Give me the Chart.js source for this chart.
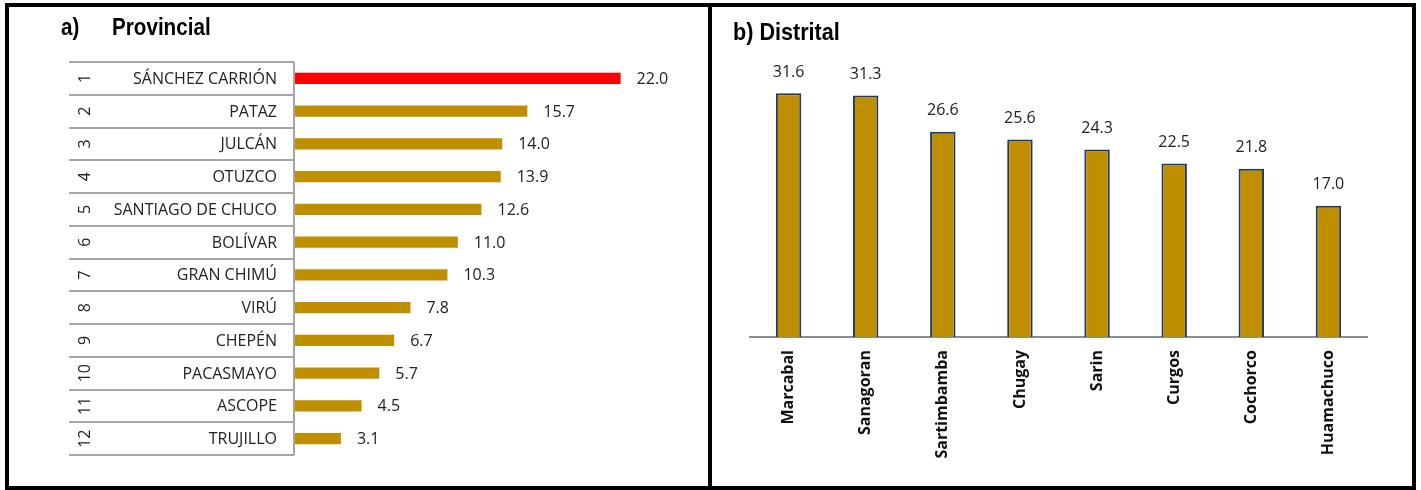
<!DOCTYPE html>
<html lang="es">
<head>
<meta charset="UTF-8">
<title>Provincial y Distrital</title>
<script src="https://cdn.jsdelivr.net/npm/chart.js"></script>
<style>
  body { margin: 0; background: #fff; width: 1421px; height: 490px; overflow: hidden; }
  .marco { position: absolute; left: 5px; top: 3px; width: 1403px; height: 479px; border: 4px solid #000; z-index: 2; }
  .divisor { position: absolute; left: 708px; top: 3px; width: 4px; height: 487px; background: #000; z-index: 2; }
  .titulo { position: absolute; font-family: 'Liberation Sans', Arial, sans-serif;
            font-weight: bold; font-size: 24px; color: #000; z-index: 3; line-height: 1;
            transform: scaleX(0.86); transform-origin: left top; white-space: nowrap; }
  #izq { position: absolute; left: 0; top: 0; }
  #der { position: absolute; left: 712px; top: 0; }
</style>
</head>
<body>
<div class="marco"></div>
<div class="divisor"></div>
<div class="titulo" style="left:61px; top:15px;">a)</div>
<div class="titulo" style="left:112px; top:15px;">Provincial</div>
<div class="titulo" style="left:733px; top:20px; transform: scaleX(0.9);">b) Distrital</div>
<canvas id="izq" width="708" height="490"></canvas>
<canvas id="der" width="709" height="490"></canvas>

<script>
// a) Provincial
const rangos = ['1', '2', '3', '4', '5', '6', '7', '8', '9', '10', '11', '12'];
const provincias = ['SÁNCHEZ CARRIÓN', 'PATAZ', 'JULCÁN', 'OTUZCO', 'SANTIAGO DE CHUCO', 'BOLÍVAR',
                    'GRAN CHIMÚ', 'VIRÚ', 'CHEPÉN', 'PACASMAYO', 'ASCOPE', 'TRUJILLO'];
const valoresProv = [22.0, 15.7, 14.0, 13.9, 12.6, 11.0, 10.3, 7.8, 6.7, 5.7, 4.5, 3.1];

// b) Distrital
const distritos = ['Marcabal', 'Sanagoran', 'Sartimbamba', 'Chugay', 'Sarin', 'Curgos', 'Cochorco', 'Huamachuco'];
const valoresDist = [31.6, 31.3, 26.6, 25.6, 24.3, 22.5, 21.8, 17.0];

const ORO = '#BF8F00';
const fuente = "'Open Sans', Lato, sans-serif";

// valores encima / al lado de cada barra
const etiquetas = {
  id: 'etiquetas',
  afterDatasetsDraw(chart, args, opts) {
    const ctx = chart.ctx;
    const meta = chart.getDatasetMeta(0);
    ctx.save();
    ctx.font = '16px ' + fuente;
    ctx.fillStyle = '#222';
    meta.data.forEach((bar, i) => {
      const txt = chart.data.datasets[0].data[i].toFixed(1);
      if (opts.horizontal) {
        ctx.textAlign = 'left';
        ctx.textBaseline = 'middle';
        ctx.fillText(txt, bar.x + 16, bar.y + 1);
      } else {
        ctx.textAlign = 'center';
        ctx.textBaseline = 'middle';
        ctx.fillText(txt, bar.x, bar.y - 21);
      }
    });
    ctx.restore();
  }
};

// tabla de rangos y nombres a la izquierda
const tabla = {
  id: 'tabla',
  afterDraw(chart) {
    const ctx = chart.ctx;
    const y = chart.scales.y;
    const x0 = 69, x1 = chart.chartArea.left - 1;
    ctx.save();
    ctx.strokeStyle = '#a6a6a6';
    ctx.lineWidth = 2;
    for (let i = 0; i <= provincias.length; i++) {
      const yy = Math.round(y.getPixelForValue(i - 0.5));
      ctx.beginPath();
      ctx.moveTo(x0, yy);
      ctx.lineTo(x1, yy);
      ctx.stroke();
    }
    ctx.beginPath();
    ctx.moveTo(x1, Math.round(y.getPixelForValue(-0.5)));
    ctx.lineTo(x1, Math.round(y.getPixelForValue(provincias.length - 0.5)));
    ctx.stroke();

    ctx.fillStyle = '#222';
    ctx.font = '16px ' + fuente;
    provincias.forEach((nombre, i) => {
      const yy = y.getPixelForValue(i);
      ctx.textAlign = 'right';
      ctx.textBaseline = 'middle';
      ctx.fillText(nombre, 277, yy + 1);
      ctx.save();
      ctx.translate(84, yy);
      ctx.rotate(-Math.PI / 2);
      ctx.textAlign = 'center';
      ctx.fillText(rangos[i], 0, 1);
      ctx.restore();
    });
    ctx.restore();
  }
};

new Chart(document.getElementById('izq'), {
  type: 'bar',
  data: {
    labels: provincias,
    datasets: [{
      data: valoresProv,
      backgroundColor: valoresProv.map((v, i) => i === 0 ? '#FF0000' : ORO),
      borderWidth: 0,
      barPercentage: 0.34,
      categoryPercentage: 1
    }]
  },
  options: {
    indexAxis: 'y',
    responsive: false,
    animation: false,
    layout: { padding: { left: 295, right: 43, top: 62, bottom: 35 } },
    scales: {
      x: { display: false, min: 0, max: 25 },
      y: { display: false }
    },
    plugins: {
      legend: { display: false },
      tooltip: { enabled: false },
      etiquetas: { horizontal: true }
    }
  },
  plugins: [tabla, etiquetas]
});

new Chart(document.getElementById('der'), {
  type: 'bar',
  data: {
    labels: distritos,
    datasets: [{
      data: valoresDist,
      backgroundColor: ORO,
      borderColor: '#1F3864',
      borderWidth: 2,
      barPercentage: 0.33,
      categoryPercentage: 1
    }]
  },
  options: {
    responsive: false,
    animation: false,
    layout: { padding: { left: 38, right: 54, top: 67, bottom: 0 } },
    scales: {
      x: {
        grid: { display: false },
        border: { display: true, color: '#8c8c8c', width: 2 },
        ticks: {
          color: '#111',
          font: { family: fuente, size: 16, weight: 'bold' },
          minRotation: 90,
          maxRotation: 90,
          padding: 5
        },
        afterFit(scale) { scale.height = 153; }
      },
      y: { display: false, min: 0, max: 35 }
    },
    plugins: {
      legend: { display: false },
      tooltip: { enabled: false },
      etiquetas: { horizontal: false }
    }
  },
  plugins: [etiquetas]
});
</script>
</body>
</html>
